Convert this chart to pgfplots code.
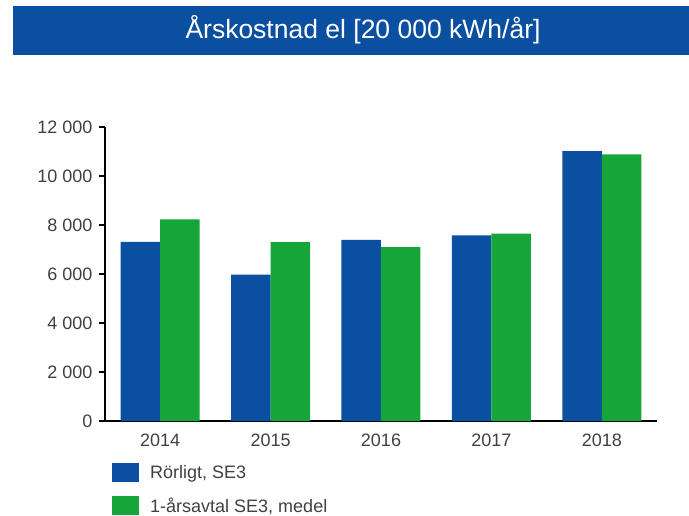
\documentclass[border=0pt]{standalone}
\usepackage{fontspec}
\setmainfont{Liberation Sans}
\usepackage{pgfplots}
\pgfplotsset{compat=1.18}
\definecolor{barblue}{HTML}{0B4FA0}
\definecolor{bargreen}{HTML}{16A538}
\definecolor{ticktext}{HTML}{404040}
\newcommand{\lbl}{\fontsize{18}{21}\selectfont}
\begin{document}
\begin{tikzpicture}[x=1pt,y=1pt]
\useasboundingbox (0,0) rectangle (689,515);
% title banner
\fill[barblue] (13,460) rectangle (689,509);
\node[text=white,font=\fontsize{26.5}{30}\selectfont] at (363,485) {Årskostnad el [20 000 kWh/år]};
\begin{axis}[
    at={(105pt,94pt)}, anchor=south west,
    scale only axis, width=552pt, height=294pt,
    ybar=0pt, bar width=39.5pt,
    xmin=-0.5, xmax=4.5, ymin=0, ymax=12000,
    xtick={0,1,2,3,4},
    xticklabels={2014,2015,2016,2017,2018},
    ytick={0,2000,...,12000},
    scaled y ticks=false,
    axis x line*=bottom, axis y line*=left,
    axis line style={line width=1.4pt, -},
    x tick style={draw=none},
    y tick style={line width=1.4pt, black},
    tick align=outside, major tick length=6pt,
    ticklabel style={font=\lbl, text=ticktext},
    x tick label style={yshift=-3pt},
    y tick label style={xshift=-3pt},
    /pgf/number format/.cd, 1000 sep={\ }, assume math mode=true,
    /pgfplots/.cd,
    legend style={at={(axis description cs:0.0127,-0.1429)}, anchor=north west,
        draw=none, fill=none, inner sep=0pt, font=\lbl, text=ticktext,
        nodes={inner sep=0pt}, row sep=14pt,
        /tikz/every odd column/.append style={column sep=11pt}},
    legend cell align=left,
]
\addplot[fill=barblue, draw=none,
    legend image code/.code={\fill[barblue] (0pt,-9pt) rectangle (27pt,10pt);}]
    coordinates {(0,7310) (1,5970) (2,7390) (3,7580) (4,11020)};
\addplot[fill=bargreen, draw=none,
    legend image code/.code={\fill[bargreen] (0pt,-9pt) rectangle (27pt,10pt);}]
    coordinates {(0,8230) (1,7300) (2,7100) (3,7650) (4,10880)};
\legend{{Rörligt, SE3}, {1-årsavtal SE3, medel}}
\end{axis}
\end{tikzpicture}
\end{document}
